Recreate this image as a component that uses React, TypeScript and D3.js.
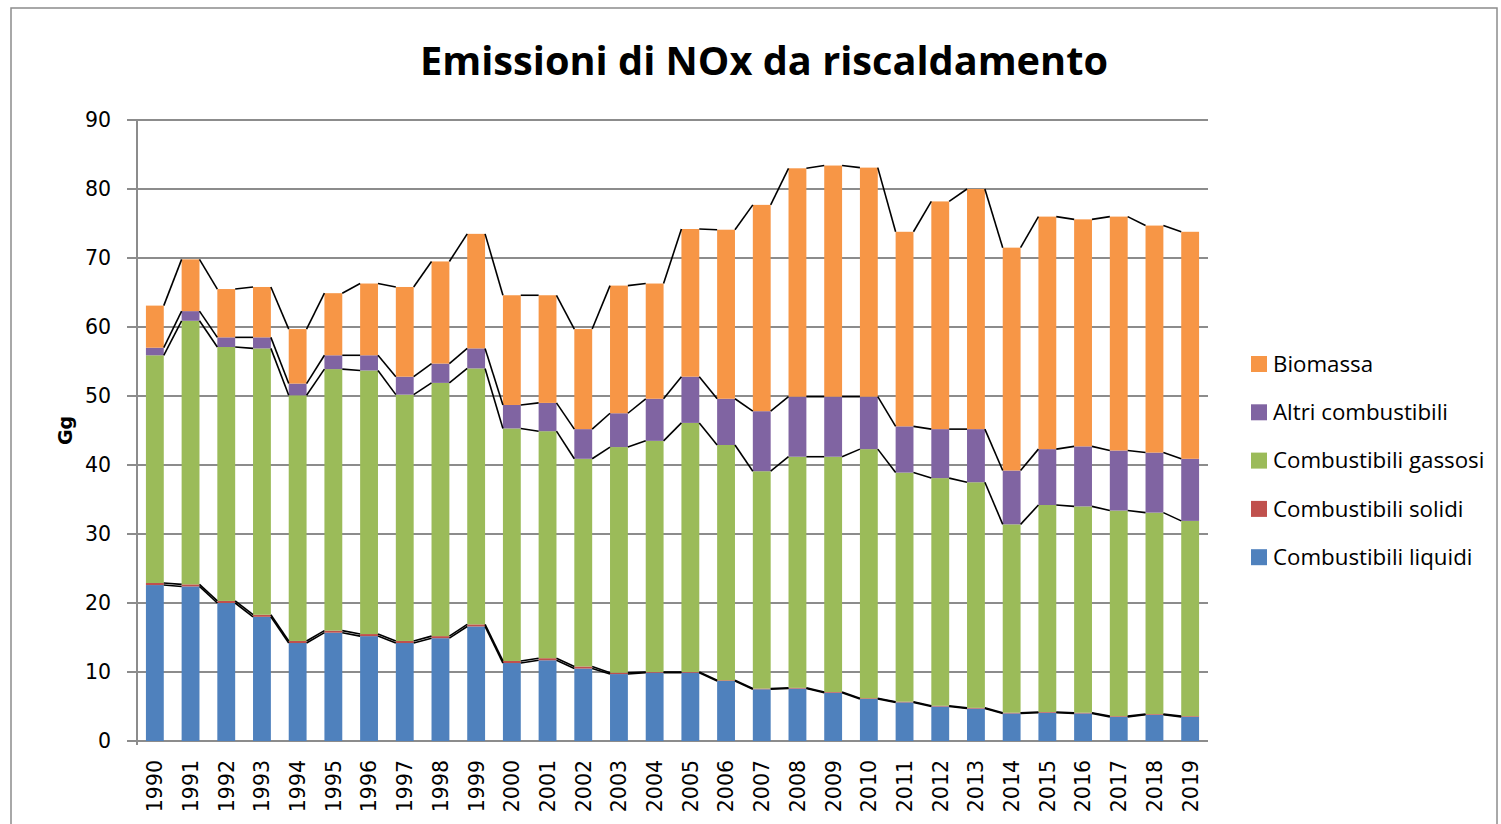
import React from "react";
import * as d3 from "d3";

// categories and values (Gg)
const years = [
  "1990", "1991", "1992", "1993", "1994", "1995", "1996", "1997", "1998", "1999",
  "2000", "2001", "2002", "2003", "2004", "2005", "2006", "2007", "2008", "2009",
  "2010", "2011", "2012", "2013", "2014", "2015", "2016", "2017", "2018", "2019",
];
const liquidi = [22.6, 22.4, 20.0, 18.0, 14.2, 15.7, 15.2, 14.2, 14.9, 16.6, 11.3, 11.7, 10.5, 9.7, 9.9, 9.9, 8.7, 7.5, 7.6, 7.0, 6.1, 5.6, 5.0, 4.7, 4.0, 4.1, 4.0, 3.5, 3.8, 3.5];
const solidi = [0.3, 0.3, 0.3, 0.3, 0.3, 0.3, 0.3, 0.3, 0.3, 0.3, 0.3, 0.3, 0.3, 0.2, 0.1, 0.1, 0.1, 0.1, 0.1, 0.1, 0.1, 0.1, 0.1, 0.1, 0.1, 0.1, 0.1, 0.1, 0.1, 0.1];
const gassosi = [33.0, 38.2, 36.8, 38.6, 35.6, 37.9, 38.2, 35.7, 36.7, 37.1, 33.7, 32.9, 30.1, 32.7, 33.5, 36.1, 34.1, 31.5, 33.5, 34.1, 36.1, 33.2, 33.0, 32.7, 27.3, 30.0, 29.9, 29.8, 29.2, 28.3];
const altri = [1.1, 1.4, 1.4, 1.6, 1.7, 2.0, 2.2, 2.6, 2.8, 2.9, 3.4, 4.1, 4.3, 4.9, 6.1, 6.7, 6.7, 8.7, 8.7, 8.7, 7.6, 6.7, 7.1, 7.7, 7.8, 8.1, 8.7, 8.7, 8.7, 9.0];
const biomassa = [6.1, 7.5, 7.0, 7.3, 7.9, 9.0, 10.4, 13.0, 14.8, 16.6, 15.9, 15.6, 14.5, 18.5, 16.7, 21.4, 24.5, 29.9, 33.1, 33.5, 33.2, 28.2, 33.0, 34.8, 32.3, 33.7, 32.9, 33.9, 32.9, 32.9];
const yTicks = [0, 10, 20, 30, 40, 50, 60, 70, 80, 90];

const seriesNames = [
  "Combustibili liquidi",
  "Combustibili solidi",
  "Combustibili gassosi",
  "Altri combustibili",
  "Biomassa",
];
const seriesValues = [liquidi, solidi, gassosi, altri, biomassa];
const colors = ["#4F81BD", "#C0504D", "#9BBB59", "#8064A2", "#F79646"];

export default function App() {
  const W = 1501;
  const H = 824;
  const left = 137;
  const right = 1208;
  const top = 120;
  const bottom = 741;

  const x = d3.scaleBand().domain(years).range([left, right]).paddingInner(0.5).paddingOuter(0.25);
  const y = d3.scaleLinear().domain([0, 90]).range([bottom, top]);
  const bw = x.bandwidth();

  const table = years.map((yr, i) => {
    const row: any = { year: yr };
    seriesNames.forEach((s, k) => (row[s] = seriesValues[k][i]));
    return row;
  });
  const stacked = d3.stack().keys(seriesNames)(table);

  const gridColor = "#8c8c8c";
  const tickFont = "'DejaVu Sans', sans-serif";
  const textFont = "'Open Sans', Lato, sans-serif";

  return (
    <div style={{ position: "fixed", left: 0, top: 0 }}>
      <svg width={W} height={H} style={{ display: "block", background: "#fff" }}>
        {/* chart border */}
        <rect x={11} y={8} width={1486} height={840} fill="none" stroke="#8c8c8c" strokeWidth={1.5} />

        {/* title */}
        <text
          x={764}
          y={75}
          textAnchor="middle"
          fontFamily={textFont}
          fontWeight="bold"
          fontSize={40}
          textLength={688}
          lengthAdjust="spacingAndGlyphs"
          fill="#000"
        >
          Emissioni di NOx da riscaldamento
        </text>

        {/* gridlines and y ticks */}
        {yTicks.map((t) => (
          <g key={t}>
            <line x1={left - 10} x2={right} y1={y(t)} y2={y(t)} stroke={gridColor} strokeWidth={2} />
            <text x={111} y={y(t)} dy="0.36em" textAnchor="end" fontFamily={tickFont} fontSize={20.5} fill="#000">
              {t}
            </text>
          </g>
        ))}
        <line x1={left} x2={left} y1={top} y2={bottom + 4} stroke={gridColor} strokeWidth={2} />

        {/* y axis label */}
        <text
          transform={`translate(72,${(top + bottom) / 2}) rotate(-90)`}
          textAnchor="middle"
          fontFamily={tickFont}
          fontWeight="bold"
          fontSize={19}
          fill="#000"
        >
          Gg
        </text>

        {/* bars */}
        {stacked.map((layer, k) => (
          <g key={layer.key} fill={colors[k]}>
            {layer.map((d, i) => (
              <rect
                key={i}
                x={x(years[i])!}
                y={y(d[1])}
                width={bw}
                height={Math.max(0, y(d[0]) - y(d[1]))}
              />
            ))}
          </g>
        ))}

        {/* series lines */}
        {stacked.map((layer, k) => (
          <g key={"sl" + k} stroke="#000" strokeWidth={1.6} fill="none">
            {layer.slice(0, -1).map((d, i) => (
              <line
                key={i}
                x1={x(years[i])! + bw}
                y1={y(d[1])}
                x2={x(years[i + 1])!}
                y2={y(layer[i + 1][1])}
              />
            ))}
          </g>
        ))}

        {/* x labels */}
        {years.map((yr) => (
          <text
            key={yr}
            transform={`translate(${x(yr)! + bw / 2},760) rotate(-90)`}
            textAnchor="end"
            dy="0.36em"
            fontFamily={tickFont}
            fontSize={20.5}
            fill="#000"
          >
            {yr}
          </text>
        ))}

        {/* legend */}
        {seriesNames
          .map((s, k) => ({ s, k }))
          .reverse()
          .map(({ s, k }, j) => (
            <g key={s} transform={`translate(1251,${364 + j * 48.3})`}>
              <rect x={0} y={-8} width={16} height={16} fill={colors[k]} />
              <text x={22} y={0} dy="0.35em" fontFamily={textFont} fontSize={22.3} fill="#000">
                {s}
              </text>
            </g>
          ))}
      </svg>
    </div>
  );
}
